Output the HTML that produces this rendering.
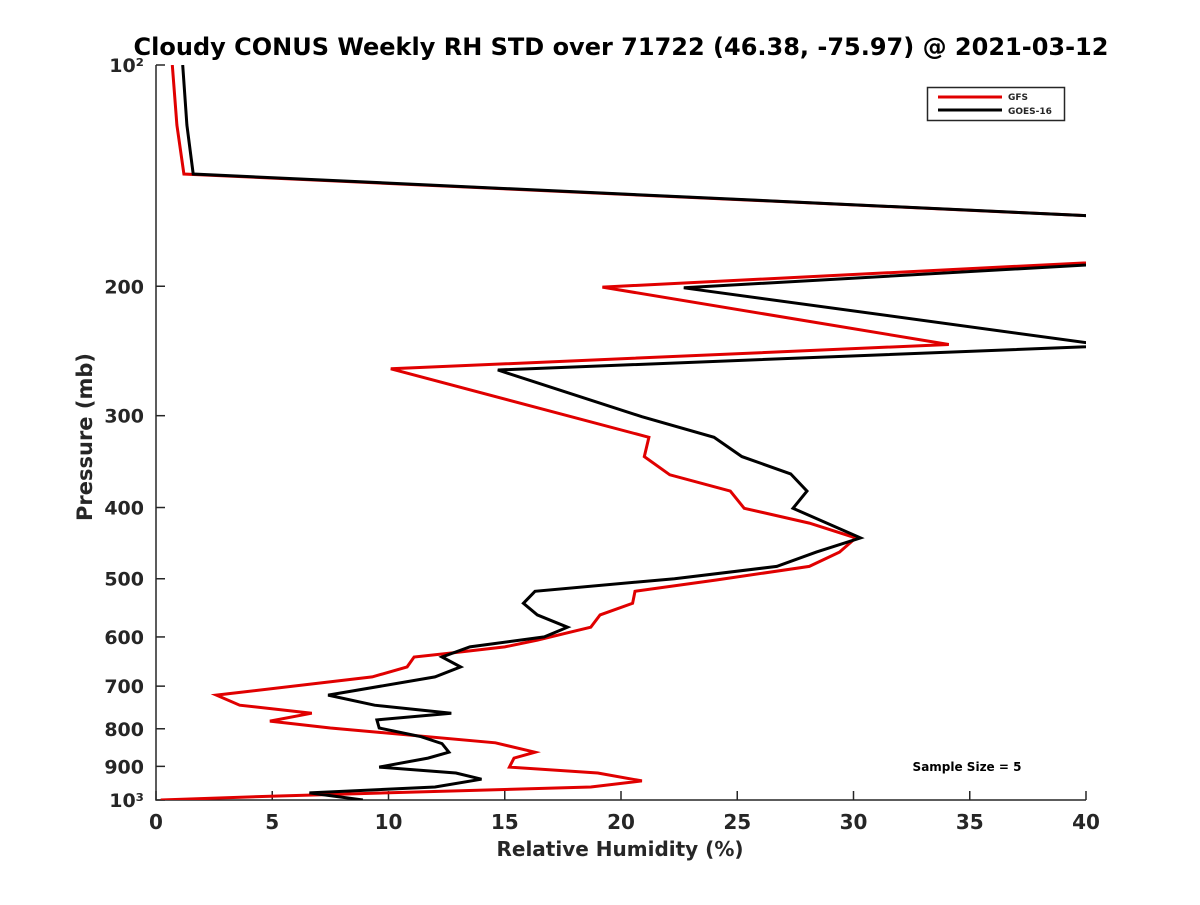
<!DOCTYPE html>
<html><head><meta charset="utf-8"><style>
body{margin:0;background:#fff;font-family:"Liberation Sans","DejaVu Sans",sans-serif;}
svg text{font-family:"DejaVu Sans","Liberation Sans",sans-serif;font-weight:bold;fill:#262626;}
</style></head><body>
<svg width="1200" height="900">
<text x="621" y="55" text-anchor="middle" font-size="24" style="fill:#000">Cloudy CONUS Weekly RH STD over 71722 (46.38, -75.97) @ 2021-03-12</text>
<defs><clipPath id="pc"><rect x="156" y="65" width="930" height="735"/></clipPath></defs>
<g id="ticks"></g>
<g id="series" clip-path="url(#pc)"></g>
<text x="620" y="856" text-anchor="middle" font-size="20">Relative Humidity (%)</text>
<text transform="translate(92,437) rotate(-90)" text-anchor="middle" font-size="21">Pressure (mb)</text>
<g>
<rect x="927.5" y="87.5" width="137" height="33" fill="#fff" stroke="#262626" stroke-width="1.5"/>
<line x1="938" y1="97" x2="1002" y2="97" stroke="#e00000" stroke-width="3"/>
<text x="1008" y="100" font-size="9">GFS</text>
<line x1="938" y1="110" x2="1002" y2="110" stroke="#000" stroke-width="3"/>
<text x="1008" y="114" font-size="9">GOES-16</text>
</g>
<text x="967" y="771" text-anchor="middle" font-size="12" style="fill:#000">Sample Size = 5</text>
</svg>
<script>
const xTicks=[0,5,10,15,20,25,30,35,40];
const yTicks=[100,200,300,400,500,600,700,800,900,1000];
const yTickLabels=["10²","200","300","400","500","600","700","800","900","10³"];
const gfsPressure=[100,120.7,140.7,163,182.5,200.5,240,259,321,341,361,380,401,420,440,460,481,502,520,540,560,582,606,619,631,639,659,680,720,743,762,781,798,836,861,877,902,919,942,960,988,1000];
const gfsRH=[0.7,0.9,1.2,45,45,19.2,34.1,10.1,21.2,21.0,22.1,24.7,25.3,28.1,30.1,29.4,28.1,24.1,20.6,20.5,19.1,18.7,16.4,15.0,12.7,11.1,10.8,9.3,2.6,3.6,6.7,4.9,7.5,14.6,16.3,15.4,15.2,19.0,20.9,18.7,5.1,0.2];
const goesPressure=[100,120.7,140.7,163,183.3,201,241,260,301,321,341,360,380,401,440,460,481,500,520,540,560,582,600,619,639,659,680,720,743,762,778,798,820,838,861,877,902,919,937,960,978,1000];
const goesRH=[1.15,1.33,1.6,45,45,22.7,41,14.7,20.9,24.0,25.2,27.3,28.0,27.4,30.3,28.4,26.7,22.3,16.3,15.8,16.4,17.7,16.7,13.5,12.3,13.1,12.0,7.4,9.4,12.7,9.5,9.6,11.4,12.3,12.6,11.7,9.6,12.9,14.0,12.0,6.6,8.9];
const NS="http://www.w3.org/2000/svg";
const X0=156,X1=1086,Y0=65,Y1=800;
function xs(v){return X0+(v-0)/40*(X1-X0);}
function ys(p){return Y0+Math.log10(p/100)*(Y1-Y0);}
function mk(t,a){const e=document.createElementNS(NS,t);for(const k in a)e.setAttribute(k,a[k]);return e;}
const tg=document.getElementById('ticks');
const ax=mk('path',{d:`M${X0},${Y0}V${Y1}H${X1}`,stroke:'#262626','stroke-width':1.5,fill:'none'});


tg.appendChild(ax);
xTicks.forEach(v=>{
  const l=mk('line',{x1:xs(v),x2:xs(v),y1:Y1,y2:Y1-9,stroke:'#262626','stroke-width':1.5});
  
  
  tg.appendChild(l);
  const t=mk('text',{x:xs(v),y:Y1+29,'text-anchor':'middle','font-size':20});
  t.textContent=v;
  
  
  tg.appendChild(t);
});
yTicks.forEach((p,i)=>{
  const l=mk('line',{x1:X0,x2:X0+9,y1:ys(p),y2:ys(p),stroke:'#262626','stroke-width':1.5});
  
  
  tg.appendChild(l);
  const t=mk('text',{x:X0-12,y:ys(p)+7,'text-anchor':'end','font-size':19});
  t.textContent=yTickLabels[i];
  
  
  tg.appendChild(t);
});
const sg=document.getElementById('series');
function line(P,V,c,name){
  const d=P.map((p,i)=>(i?'L':'M')+xs(V[i]).toFixed(1)+','+ys(p).toFixed(1)).join('');
  const e=mk('path',{d:d,stroke:c,'stroke-width':3,fill:'none','stroke-linejoin':'miter'});
  
  
  sg.appendChild(e);
}
line(gfsPressure,gfsRH,'#e00000','gfs-line');
line(goesPressure,goesRH,'#000','goes16-line');
</script>
</body></html>
